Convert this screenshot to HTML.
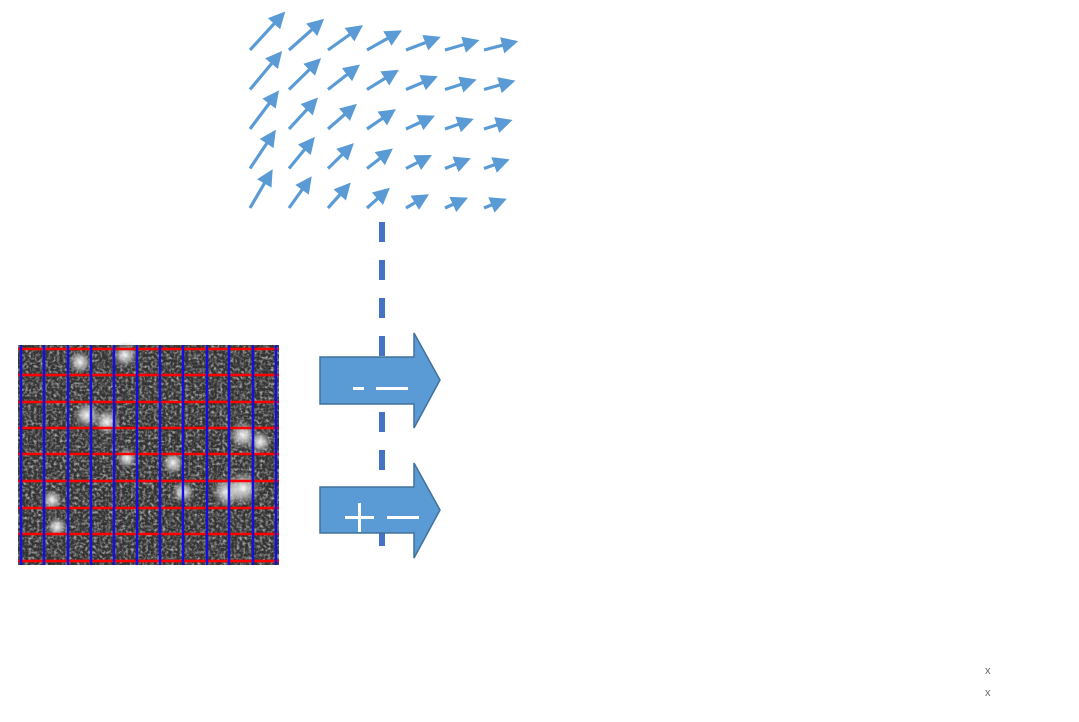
<!DOCTYPE html>
<html><head><meta charset="utf-8"><style>
html,body{margin:0;padding:0;background:#fff;}
#root{position:relative;width:1079px;height:722px;overflow:hidden;font-family:"Liberation Sans",sans-serif;}
</style></head><body>
<div id="root">
<svg id="svg" width="1079" height="722">
<defs>
<filter id="noise" x="0" y="0" width="100%" height="100%">
<feTurbulence type="fractalNoise" baseFrequency="0.35" numOctaves="2" seed="3" result="t"/>
<feColorMatrix in="t" type="matrix" values="0 0 0 0 0.4  0 0 0 0 0.4  0 0 0 0 0.4  1.4 1.4 1.4 0 -1.9" result="c"/>
<feComposite in="c" in2="SourceGraphic" operator="in"/>
</filter>
<radialGradient id="blob"><stop offset="0" stop-color="#fff" stop-opacity="0.95"/><stop offset="0.5" stop-color="#ddd" stop-opacity="0.6"/><stop offset="1" stop-color="#888" stop-opacity="0"/></radialGradient>
<marker id="ah" viewBox="0 0 10 10" refX="8" refY="5" markerWidth="5.2" markerHeight="5.2" orient="auto"><path d="M0,0 L10,5 L0,10 z" fill="#5b9bd5"/></marker>
</defs>
<g id="field"></g>
<g id="dash"></g>
<g id="micro">
<rect x="18" y="345" width="261" height="220" fill="#333"/>
<rect x="18" y="345" width="261" height="220" fill="#000" filter="url(#noise)"/>
</g>
<g>
<path d="M320,357 H414 V333 L440,380 L414,428 V404 H320 Z" fill="#5b9bd5" stroke="#41719c" stroke-width="1.5"/>
<rect x="353" y="387" width="11" height="3" fill="#fff"/>
<rect x="376" y="387" width="32" height="3" fill="#fff"/>
</g>
<g>
<path d="M320,487 H414 V463 L440,510 L414,558 V533 H320 Z" fill="#5b9bd5" stroke="#41719c" stroke-width="1.5"/>
<rect x="345" y="516" width="29" height="3" fill="#fff"/>
<rect x="358" y="503" width="3" height="29" fill="#fff"/>
<rect x="387" y="516" width="32" height="3" fill="#fff"/>
</g>
<text x="985" y="674" font-size="11" fill="#666">x</text>
<text x="985" y="696" font-size="11" fill="#666">x</text>
</svg>
</div>
<script>
// vector field data: dx per row, dy per column (pixels of vector)
const rowDx = [33, 30, 27, 24, 21];
const colDy = [-36, -29, -23, -18, -12, -9, -8];
const NS = 'http://www.w3.org/2000/svg';
const field = document.getElementById('field');
function xPos(c){return 250 + 39*c;}
function yPos(r){return 50 + 39.5*r;}
for (let r=0;r<rowDx.length;r++){
  for (let c=0;c<colDy.length;c++){
    const l=document.createElementNS(NS,'line');
    
    
    const dx=rowDx[r]*(1-0.01*c), dy=colDy[c];
    l.setAttribute('x1',xPos(c)); l.setAttribute('y1',yPos(r));
    l.setAttribute('x2',xPos(c)+dx); l.setAttribute('y2',yPos(r)+dy);
    l.setAttribute('stroke','#5b9bd5'); l.setAttribute('stroke-width','3.2');
    l.setAttribute('marker-end','url(#ah)');
    field.appendChild(l);
  }
}
// dashed line
const dash=document.getElementById('dash');
const dl=document.createElementNS(NS,'line');


dl.setAttribute('x1',382);dl.setAttribute('y1',222);dl.setAttribute('x2',382);dl.setAttribute('y2',560);
dl.setAttribute('stroke','#4472c4');dl.setAttribute('stroke-width','6');dl.setAttribute('stroke-dasharray','20 18');
dash.appendChild(dl);
// microscopy blobs and grid
const blobX=[80,125,87,107,127,173,243,260,183,227,243,52,57];
const blobY=[362,355,415,422,458,463,435,442,492,492,488,500,527];
const blobR=[12,13,14,14,11,12,15,12,12,16,18,11,11];
const micro=document.getElementById('micro');
for(let i=0;i<blobX.length;i++){
  const b=document.createElementNS(NS,'circle');
  
  
  b.setAttribute('cx',blobX[i]);b.setAttribute('cy',blobY[i]);b.setAttribute('r',blobR[i]);
  b.setAttribute('fill','url(#blob)');
  micro.appendChild(b);
}
const redY=[349,375,402,428,454,481,508,534,561];
const blueX=[21,44,68,91,114,137,160,183,207,229,253,276];
redY.forEach(y=>{
  const l=document.createElementNS(NS,'line');
  
  
  l.setAttribute('x1',18);l.setAttribute('x2',279);l.setAttribute('y1',y);l.setAttribute('y2',y);
  l.setAttribute('stroke','#f00');l.setAttribute('stroke-width','2.5');
  micro.appendChild(l);
});
blueX.forEach(x=>{
  const l=document.createElementNS(NS,'line');
  
  
  l.setAttribute('x1',x);l.setAttribute('x2',x);l.setAttribute('y1',345);l.setAttribute('y2',565);
  l.setAttribute('stroke','#1010e0');l.setAttribute('stroke-width','2.5');
  micro.appendChild(l);
});
</script>
</body></html>
